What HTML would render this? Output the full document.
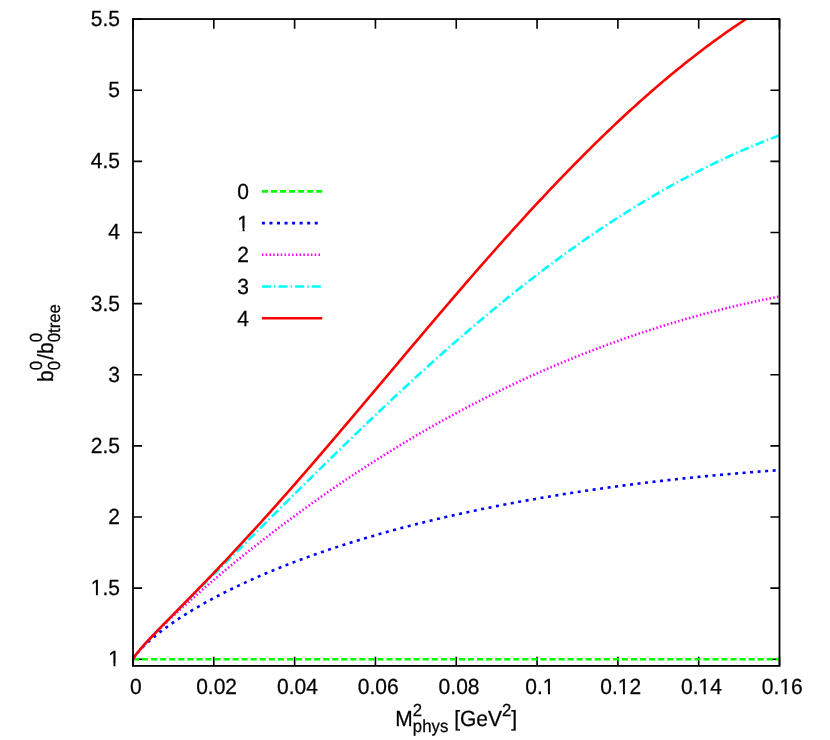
<!DOCTYPE html>
<html><head><meta charset="utf-8"><title>plot</title>
<style>html,body{margin:0;padding:0;background:#fff;}svg{display:block;}text{font-family:"Liberation Sans",sans-serif;fill:#000;stroke:#000;stroke-width:0.25px;text-rendering:geometricPrecision;}</style>
</head><body>
<svg width="830" height="740" viewBox="0 0 830 740">
<rect x="0" y="0" width="830" height="740" fill="#fff"/>
<g stroke="#000" stroke-width="1.60" fill="none" stroke-linecap="butt">
<path d="M133.00 659.20h9.1M779.50 659.20h-9.1"/>
<path d="M133.00 588.08h9.1M779.50 588.08h-9.1"/>
<path d="M133.00 516.95h9.1M779.50 516.95h-9.1"/>
<path d="M133.00 445.83h9.1M779.50 445.83h-9.1"/>
<path d="M133.00 374.70h9.1M779.50 374.70h-9.1"/>
<path d="M133.00 303.58h9.1M779.50 303.58h-9.1"/>
<path d="M133.00 232.45h9.1M779.50 232.45h-9.1"/>
<path d="M133.00 161.33h9.1M779.50 161.33h-9.1"/>
<path d="M133.00 90.20h9.1M779.50 90.20h-9.1"/>
<path d="M133.00 19.08h9.1M779.50 19.08h-9.1"/>
<path d="M133.00 665.90v-9.1M133.00 19.05v9.8"/>
<path d="M213.81 665.90v-9.1M213.81 19.05v9.8"/>
<path d="M294.62 665.90v-9.1M294.62 19.05v9.8"/>
<path d="M375.44 665.90v-9.1M375.44 19.05v9.8"/>
<path d="M456.25 665.90v-9.1M456.25 19.05v9.8"/>
<path d="M537.06 665.90v-9.1M537.06 19.05v9.8"/>
<path d="M617.88 665.90v-9.1M617.88 19.05v9.8"/>
<path d="M698.69 665.90v-9.1M698.69 19.05v9.8"/>
<path d="M779.50 665.90v-9.1M779.50 19.05v9.8"/>
</g>
<g font-size="21.00px" style="filter:grayscale(1)">
<text transform="translate(119.90 666.20) scale(1 1.045)" text-anchor="end">1</text>
<text transform="translate(119.90 595.08) scale(1 1.045)" text-anchor="end">1.5</text>
<text transform="translate(119.90 523.95) scale(1 1.045)" text-anchor="end">2</text>
<text transform="translate(119.90 452.83) scale(1 1.045)" text-anchor="end">2.5</text>
<text transform="translate(119.90 381.70) scale(1 1.045)" text-anchor="end">3</text>
<text transform="translate(119.90 310.58) scale(1 1.045)" text-anchor="end">3.5</text>
<text transform="translate(119.90 239.45) scale(1 1.045)" text-anchor="end">4</text>
<text transform="translate(119.90 168.33) scale(1 1.045)" text-anchor="end">4.5</text>
<text transform="translate(119.90 97.20) scale(1 1.045)" text-anchor="end">5</text>
<text transform="translate(119.90 26.08) scale(1 1.045)" text-anchor="end">5.5</text>
<text transform="translate(135.80 694.30) scale(1 1.045)" text-anchor="middle">0</text>
<text transform="translate(216.61 694.30) scale(1 1.045)" text-anchor="middle">0.02</text>
<text transform="translate(297.43 694.30) scale(1 1.045)" text-anchor="middle">0.04</text>
<text transform="translate(378.24 694.30) scale(1 1.045)" text-anchor="middle">0.06</text>
<text transform="translate(459.05 694.30) scale(1 1.045)" text-anchor="middle">0.08</text>
<text transform="translate(539.86 694.30) scale(1 1.045)" text-anchor="middle">0.1</text>
<text transform="translate(620.67 694.30) scale(1 1.045)" text-anchor="middle">0.12</text>
<text transform="translate(701.49 694.30) scale(1 1.045)" text-anchor="middle">0.14</text>
<text transform="translate(782.30 694.30) scale(1 1.045)" text-anchor="middle">0.16</text>
</g>
<g fill="none" stroke-width="2.60" stroke-linejoin="round" stroke-linecap="butt">
<polyline stroke="#00ff00" stroke-dasharray="6.036 3.018" points="133.00,659.20 779.50,659.20"/>
<polyline stroke="#0000ff" stroke-dasharray="3.018 4.527" points="133.00,659.20 134.62,656.57 136.23,654.43 137.85,652.49 139.47,650.66 141.08,648.93 142.70,647.27 144.31,645.67 145.93,644.13 147.55,642.62 149.16,641.16 150.78,639.74 152.39,638.34 154.01,636.98 155.63,635.65 157.24,634.34 158.86,633.05 160.48,631.79 162.09,630.55 163.71,629.33 165.32,628.13 166.94,626.94 168.56,625.78 170.17,624.63 171.79,623.49 173.41,622.37 175.02,621.27 176.64,620.18 178.25,619.10 179.87,618.03 181.49,616.98 183.10,615.94 184.72,614.91 186.34,613.89 187.95,612.89 189.57,611.89 191.19,610.91 192.80,609.93 194.42,608.96 196.03,608.01 197.65,607.06 199.27,606.12 200.88,605.19 202.50,604.27 204.12,603.36 205.73,602.45 207.35,601.56 208.96,600.67 210.58,599.79 212.20,598.92 213.81,598.05 215.43,597.19 217.05,596.34 218.66,595.50 220.28,594.66 221.89,593.83 223.51,593.00 225.13,592.18 226.74,591.37 228.36,590.57 229.97,589.77 231.59,588.97 233.21,588.19 234.82,587.41 236.44,586.63 238.06,585.86 239.67,585.10 241.29,584.34 242.91,583.58 244.52,582.83 246.14,582.09 247.75,581.35 249.37,580.62 250.99,579.89 252.60,579.17 254.22,578.45 255.84,577.74 257.45,577.03 259.07,576.32 260.68,575.62 262.30,574.93 263.92,574.24 265.53,573.55 267.15,572.87 268.76,572.19 270.38,571.52 272.00,570.85 273.61,570.19 275.23,569.53 276.85,568.87 278.46,568.22 280.08,567.57 281.69,566.93 283.31,566.29 284.93,565.65 286.54,565.02 288.16,564.39 289.78,563.77 291.39,563.14 293.01,562.53 294.62,561.91 296.24,561.30 297.86,560.70 299.47,560.09 301.09,559.49 302.71,558.90 304.32,558.30 305.94,557.72 307.56,557.13 309.17,556.55 310.79,555.97 312.40,555.39 314.02,554.82 315.64,554.25 317.25,553.68 318.87,553.12 320.49,552.56 322.10,552.00 323.72,551.45 325.33,550.90 326.95,550.35 328.57,549.81 330.18,549.26 331.80,548.72 333.41,548.19 335.03,547.66 336.65,547.13 338.26,546.60 339.88,546.07 341.50,545.55 343.11,545.03 344.73,544.52 346.35,544.00 347.96,543.49 349.58,542.99 351.19,542.48 352.81,541.98 354.43,541.48 356.04,540.98 357.66,540.49 359.28,540.00 360.89,539.51 362.51,539.02 364.12,538.54 365.74,538.05 367.36,537.57 368.97,537.10 370.59,536.62 372.20,536.15 373.82,535.68 375.44,535.22 377.05,534.75 378.67,534.29 380.29,533.83 381.90,533.37 383.52,532.92 385.13,532.46 386.75,532.01 388.37,531.57 389.98,531.12 391.60,530.68 393.22,530.23 394.83,529.80 396.45,529.36 398.06,528.92 399.68,528.49 401.30,528.06 402.91,527.63 404.53,527.21 406.15,526.78 407.76,526.36 409.38,525.94 411.00,525.53 412.61,525.11 414.23,524.70 415.84,524.29 417.46,523.88 419.08,523.47 420.69,523.06 422.31,522.66 423.93,522.26 425.54,521.86 427.16,521.46 428.77,521.07 430.39,520.68 432.01,520.29 433.62,519.90 435.24,519.51 436.86,519.12 438.47,518.74 440.09,518.36 441.70,517.98 443.32,517.60 444.94,517.23 446.55,516.85 448.17,516.48 449.78,516.11 451.40,515.74 453.02,515.38 454.63,515.01 456.25,514.65 457.87,514.29 459.48,513.93 461.10,513.57 462.72,513.22 464.33,512.86 465.95,512.51 467.56,512.16 469.18,511.81 470.80,511.46 472.41,511.12 474.03,510.77 475.65,510.43 477.26,510.09 478.88,509.75 480.49,509.42 482.11,509.08 483.73,508.75 485.34,508.42 486.96,508.09 488.58,507.76 490.19,507.43 491.81,507.11 493.42,506.78 495.04,506.46 496.66,506.14 498.27,505.82 499.89,505.51 501.51,505.19 503.12,504.88 504.74,504.57 506.35,504.25 507.97,503.95 509.59,503.64 511.20,503.33 512.82,503.03 514.43,502.72 516.05,502.42 517.67,502.12 519.28,501.82 520.90,501.53 522.52,501.23 524.13,500.94 525.75,500.65 527.37,500.36 528.98,500.07 530.60,499.78 532.21,499.49 533.83,499.21 535.45,498.92 537.06,498.64 538.68,498.36 540.30,498.08 541.91,497.80 543.53,497.53 545.14,497.25 546.76,496.98 548.38,496.71 549.99,496.44 551.61,496.17 553.23,495.90 554.84,495.63 556.46,495.37 558.07,495.10 559.69,494.84 561.31,494.58 562.92,494.32 564.54,494.06 566.15,493.80 567.77,493.55 569.39,493.29 571.00,493.04 572.62,492.79 574.24,492.54 575.85,492.29 577.47,492.04 579.09,491.80 580.70,491.55 582.32,491.31 583.93,491.06 585.55,490.82 587.17,490.58 588.78,490.35 590.40,490.11 592.01,489.87 593.63,489.64 595.25,489.40 596.86,489.17 598.48,488.94 600.10,488.71 601.71,488.48 603.33,488.25 604.94,488.03 606.56,487.80 608.18,487.58 609.79,487.36 611.41,487.14 613.03,486.92 614.64,486.70 616.26,486.48 617.88,486.27 619.49,486.05 621.11,485.84 622.72,485.62 624.34,485.41 625.96,485.20 627.57,484.99 629.19,484.79 630.81,484.58 632.42,484.37 634.04,484.17 635.65,483.97 637.27,483.76 638.89,483.56 640.50,483.36 642.12,483.16 643.74,482.97 645.35,482.77 646.97,482.58 648.58,482.38 650.20,482.19 651.82,482.00 653.43,481.81 655.05,481.62 656.67,481.43 658.28,481.24 659.90,481.05 661.51,480.87 663.13,480.69 664.75,480.50 666.36,480.32 667.98,480.14 669.60,479.96 671.21,479.78 672.83,479.60 674.44,479.43 676.06,479.25 677.68,479.08 679.29,478.91 680.91,478.73 682.53,478.56 684.14,478.39 685.76,478.22 687.37,478.06 688.99,477.89 690.61,477.72 692.22,477.56 693.84,477.40 695.45,477.23 697.07,477.07 698.69,476.91 700.30,476.75 701.92,476.59 703.54,476.44 705.15,476.28 706.77,476.12 708.38,475.97 710.00,475.82 711.62,475.66 713.23,475.51 714.85,475.36 716.47,475.21 718.08,475.06 719.70,474.92 721.32,474.77 722.93,474.63 724.55,474.48 726.16,474.34 727.78,474.20 729.40,474.05 731.01,473.91 732.63,473.77 734.25,473.64 735.86,473.50 737.48,473.36 739.09,473.23 740.71,473.09 742.33,472.96 743.94,472.82 745.56,472.69 747.18,472.56 748.79,472.43 750.41,472.30 752.02,472.18 753.64,472.05 755.26,471.92 756.87,471.80 758.49,471.67 760.11,471.55 761.72,471.43 763.34,471.31 764.95,471.19 766.57,471.07 768.19,470.95 769.80,470.83 771.42,470.71 773.03,470.60 774.65,470.48 776.27,470.37 777.88,470.26 779.50,470.14"/>
<polyline stroke="#ff00ff" stroke-dasharray="1.509 2.263" points="133.00,659.20 134.62,656.53 136.23,654.32 137.85,652.27 139.47,650.31 141.08,648.42 142.70,646.58 144.31,644.78 145.93,643.02 147.55,641.29 149.16,639.58 150.78,637.90 152.39,636.23 154.01,634.58 155.63,632.95 157.24,631.34 158.86,629.73 160.48,628.14 162.09,626.56 163.71,624.99 165.32,623.44 166.94,621.89 168.56,620.35 170.17,618.82 171.79,617.30 173.41,615.78 175.02,614.28 176.64,612.78 178.25,611.28 179.87,609.80 181.49,608.32 183.10,606.85 184.72,605.38 186.34,603.92 187.95,602.46 189.57,601.01 191.19,599.57 192.80,598.13 194.42,596.70 196.03,595.27 197.65,593.85 199.27,592.43 200.88,591.02 202.50,589.61 204.12,588.21 205.73,586.81 207.35,585.41 208.96,584.02 210.58,582.64 212.20,581.26 213.81,579.88 215.43,578.51 217.05,577.14 218.66,575.78 220.28,574.42 221.89,573.06 223.51,571.71 225.13,570.36 226.74,569.02 228.36,567.68 229.97,566.34 231.59,565.01 233.21,563.68 234.82,562.36 236.44,561.04 238.06,559.72 239.67,558.41 241.29,557.10 242.91,555.79 244.52,554.49 246.14,553.20 247.75,551.90 249.37,550.61 250.99,549.32 252.60,548.04 254.22,546.76 255.84,545.49 257.45,544.21 259.07,542.95 260.68,541.68 262.30,540.42 263.92,539.16 265.53,537.91 267.15,536.66 268.76,535.41 270.38,534.16 272.00,532.92 273.61,531.69 275.23,530.45 276.85,529.22 278.46,528.00 280.08,526.77 281.69,525.55 283.31,524.34 284.93,523.12 286.54,521.91 288.16,520.71 289.78,519.51 291.39,518.31 293.01,517.11 294.62,515.92 296.24,514.73 297.86,513.54 299.47,512.36 301.09,511.18 302.71,510.01 304.32,508.83 305.94,507.67 307.56,506.50 309.17,505.34 310.79,504.18 312.40,503.02 314.02,501.87 315.64,500.72 317.25,499.58 318.87,498.44 320.49,497.30 322.10,496.16 323.72,495.03 325.33,493.90 326.95,492.77 328.57,491.65 330.18,490.53 331.80,489.42 333.41,488.30 335.03,487.19 336.65,486.09 338.26,484.98 339.88,483.89 341.50,482.79 343.11,481.70 344.73,480.61 346.35,479.52 347.96,478.44 349.58,477.36 351.19,476.28 352.81,475.21 354.43,474.14 356.04,473.07 357.66,472.00 359.28,470.94 360.89,469.89 362.51,468.83 364.12,467.78 365.74,466.73 367.36,465.69 368.97,464.65 370.59,463.61 372.20,462.57 373.82,461.54 375.44,460.51 377.05,459.49 378.67,458.47 380.29,457.45 381.90,456.43 383.52,455.42 385.13,454.41 386.75,453.40 388.37,452.40 389.98,451.40 391.60,450.40 393.22,449.41 394.83,448.42 396.45,447.43 398.06,446.45 399.68,445.47 401.30,444.49 402.91,443.52 404.53,442.54 406.15,441.58 407.76,440.61 409.38,439.65 411.00,438.69 412.61,437.73 414.23,436.78 415.84,435.83 417.46,434.89 419.08,433.94 420.69,433.00 422.31,432.07 423.93,431.13 425.54,430.20 427.16,429.27 428.77,428.35 430.39,427.43 432.01,426.51 433.62,425.60 435.24,424.68 436.86,423.77 438.47,422.87 440.09,421.97 441.70,421.07 443.32,420.17 444.94,419.28 446.55,418.39 448.17,417.50 449.78,416.61 451.40,415.73 453.02,414.86 454.63,413.98 456.25,413.11 457.87,412.24 459.48,411.37 461.10,410.51 462.72,409.65 464.33,408.79 465.95,407.94 467.56,407.09 469.18,406.24 470.80,405.40 472.41,404.56 474.03,403.72 475.65,402.88 477.26,402.05 478.88,401.22 480.49,400.40 482.11,399.57 483.73,398.75 485.34,397.94 486.96,397.12 488.58,396.31 490.19,395.50 491.81,394.70 493.42,393.90 495.04,393.10 496.66,392.30 498.27,391.51 499.89,390.72 501.51,389.93 503.12,389.15 504.74,388.36 506.35,387.59 507.97,386.81 509.59,386.04 511.20,385.27 512.82,384.50 514.43,383.74 516.05,382.98 517.67,382.22 519.28,381.47 520.90,380.72 522.52,379.97 524.13,379.22 525.75,378.48 527.37,377.74 528.98,377.00 530.60,376.27 532.21,375.54 533.83,374.81 535.45,374.09 537.06,373.36 538.68,372.65 540.30,371.93 541.91,371.22 543.53,370.51 545.14,369.80 546.76,369.09 548.38,368.39 549.99,367.69 551.61,367.00 553.23,366.31 554.84,365.62 556.46,364.93 558.07,364.24 559.69,363.56 561.31,362.88 562.92,362.21 564.54,361.54 566.15,360.87 567.77,360.20 569.39,359.54 571.00,358.87 572.62,358.22 574.24,357.56 575.85,356.91 577.47,356.26 579.09,355.61 580.70,354.97 582.32,354.33 583.93,353.69 585.55,353.05 587.17,352.42 588.78,351.79 590.40,351.16 592.01,350.54 593.63,349.92 595.25,349.30 596.86,348.68 598.48,348.07 600.10,347.46 601.71,346.85 603.33,346.25 604.94,345.65 606.56,345.05 608.18,344.45 609.79,343.86 611.41,343.27 613.03,342.68 614.64,342.10 616.26,341.51 617.88,340.93 619.49,340.36 621.11,339.78 622.72,339.21 624.34,338.64 625.96,338.08 627.57,337.52 629.19,336.96 630.81,336.40 632.42,335.84 634.04,335.29 635.65,334.74 637.27,334.20 638.89,333.65 640.50,333.11 642.12,332.57 643.74,332.04 645.35,331.51 646.97,330.98 648.58,330.45 650.20,329.92 651.82,329.40 653.43,328.88 655.05,328.37 656.67,327.85 658.28,327.34 659.90,326.83 661.51,326.33 663.13,325.82 664.75,325.32 666.36,324.83 667.98,324.33 669.60,323.84 671.21,323.35 672.83,322.86 674.44,322.38 676.06,321.90 677.68,321.42 679.29,320.94 680.91,320.47 682.53,320.00 684.14,319.53 685.76,319.06 687.37,318.60 688.99,318.14 690.61,317.68 692.22,317.23 693.84,316.77 695.45,316.32 697.07,315.88 698.69,315.43 700.30,314.99 701.92,314.55 703.54,314.11 705.15,313.68 706.77,313.25 708.38,312.82 710.00,312.39 711.62,311.97 713.23,311.55 714.85,311.13 716.47,310.71 718.08,310.30 719.70,309.89 721.32,309.48 722.93,309.07 724.55,308.67 726.16,308.27 727.78,307.87 729.40,307.47 731.01,307.08 732.63,306.69 734.25,306.30 735.86,305.92 737.48,305.53 739.09,305.15 740.71,304.77 742.33,304.40 743.94,304.03 745.56,303.66 747.18,303.29 748.79,302.92 750.41,302.56 752.02,302.20 753.64,301.84 755.26,301.49 756.87,301.13 758.49,300.78 760.11,300.43 761.72,300.09 763.34,299.75 764.95,299.40 766.57,299.07 768.19,298.73 769.80,298.40 771.42,298.07 773.03,297.74 774.65,297.41 776.27,297.09 777.88,296.77 779.50,296.45"/>
<polyline stroke="#00ffff" stroke-dasharray="9.054 3.018 1.509 3.018" points="133.00,659.20 134.62,656.53 136.23,654.32 137.85,652.26 139.47,650.29 141.08,648.39 142.70,646.54 144.31,644.72 145.93,642.94 147.55,641.18 149.16,639.44 150.78,637.72 152.39,636.01 154.01,634.32 155.63,632.64 157.24,630.97 158.86,629.31 160.48,627.65 162.09,626.00 163.71,624.36 165.32,622.72 166.94,621.09 168.56,619.46 170.17,617.83 171.79,616.21 173.41,614.59 175.02,612.97 176.64,611.36 178.25,609.75 179.87,608.14 181.49,606.53 183.10,604.92 184.72,603.31 186.34,601.70 187.95,600.10 189.57,598.49 191.19,596.89 192.80,595.28 194.42,593.68 196.03,592.07 197.65,590.47 199.27,588.87 200.88,587.26 202.50,585.66 204.12,584.06 205.73,582.45 207.35,580.85 208.96,579.24 210.58,577.64 212.20,576.04 213.81,574.43 215.43,572.83 217.05,571.22 218.66,569.61 220.28,568.01 221.89,566.40 223.51,564.79 225.13,563.19 226.74,561.58 228.36,559.97 229.97,558.36 231.59,556.76 233.21,555.15 234.82,553.54 236.44,551.93 238.06,550.32 239.67,548.71 241.29,547.10 242.91,545.49 244.52,543.88 246.14,542.27 247.75,540.66 249.37,539.05 250.99,537.43 252.60,535.82 254.22,534.21 255.84,532.60 257.45,530.99 259.07,529.38 260.68,527.77 262.30,526.15 263.92,524.54 265.53,522.93 267.15,521.32 268.76,519.71 270.38,518.10 272.00,516.49 273.61,514.88 275.23,513.27 276.85,511.66 278.46,510.05 280.08,508.44 281.69,506.83 283.31,505.22 284.93,503.61 286.54,502.00 288.16,500.40 289.78,498.79 291.39,497.18 293.01,495.58 294.62,493.97 296.24,492.37 297.86,490.76 299.47,489.16 301.09,487.56 302.71,485.96 304.32,484.35 305.94,482.75 307.56,481.15 309.17,479.56 310.79,477.96 312.40,476.36 314.02,474.77 315.64,473.17 317.25,471.58 318.87,469.98 320.49,468.39 322.10,466.80 323.72,465.21 325.33,463.62 326.95,462.03 328.57,460.45 330.18,458.86 331.80,457.28 333.41,455.70 335.03,454.12 336.65,452.54 338.26,450.96 339.88,449.38 341.50,447.80 343.11,446.23 344.73,444.66 346.35,443.09 347.96,441.52 349.58,439.95 351.19,438.38 352.81,436.82 354.43,435.25 356.04,433.69 357.66,432.13 359.28,430.57 360.89,429.02 362.51,427.46 364.12,425.91 365.74,424.36 367.36,422.81 368.97,421.26 370.59,419.71 372.20,418.17 373.82,416.63 375.44,415.09 377.05,413.55 378.67,412.01 380.29,410.48 381.90,408.95 383.52,407.42 385.13,405.89 386.75,404.37 388.37,402.84 389.98,401.32 391.60,399.80 393.22,398.29 394.83,396.77 396.45,395.26 398.06,393.75 399.68,392.24 401.30,390.74 402.91,389.24 404.53,387.74 406.15,386.24 407.76,384.74 409.38,383.25 411.00,381.76 412.61,380.27 414.23,378.79 415.84,377.30 417.46,375.82 419.08,374.34 420.69,372.87 422.31,371.40 423.93,369.93 425.54,368.46 427.16,367.00 428.77,365.53 430.39,364.08 432.01,362.62 433.62,361.17 435.24,359.71 436.86,358.27 438.47,356.82 440.09,355.38 441.70,353.94 443.32,352.50 444.94,351.07 446.55,349.64 448.17,348.21 449.78,346.79 451.40,345.37 453.02,343.95 454.63,342.53 456.25,341.12 457.87,339.71 459.48,338.30 461.10,336.90 462.72,335.50 464.33,334.10 465.95,332.71 467.56,331.32 469.18,329.93 470.80,328.54 472.41,327.16 474.03,325.79 475.65,324.41 477.26,323.04 478.88,321.67 480.49,320.31 482.11,318.94 483.73,317.59 485.34,316.23 486.96,314.88 488.58,313.53 490.19,312.18 491.81,310.84 493.42,309.51 495.04,308.17 496.66,306.84 498.27,305.51 499.89,304.19 501.51,302.87 503.12,301.55 504.74,300.23 506.35,298.92 507.97,297.62 509.59,296.31 511.20,295.01 512.82,293.72 514.43,292.42 516.05,291.14 517.67,289.85 519.28,288.57 520.90,287.29 522.52,286.02 524.13,284.75 525.75,283.48 527.37,282.21 528.98,280.95 530.60,279.70 532.21,278.45 533.83,277.20 535.45,275.95 537.06,274.71 538.68,273.47 540.30,272.24 541.91,271.01 543.53,269.78 545.14,268.56 546.76,267.34 548.38,266.13 549.99,264.92 551.61,263.71 553.23,262.51 554.84,261.31 556.46,260.12 558.07,258.92 559.69,257.74 561.31,256.55 562.92,255.37 564.54,254.20 566.15,253.03 567.77,251.86 569.39,250.69 571.00,249.54 572.62,248.38 574.24,247.23 575.85,246.08 577.47,244.94 579.09,243.80 580.70,242.66 582.32,241.53 583.93,240.40 585.55,239.28 587.17,238.16 588.78,237.04 590.40,235.93 592.01,234.82 593.63,233.72 595.25,232.62 596.86,231.53 598.48,230.43 600.10,229.35 601.71,228.26 603.33,227.19 604.94,226.11 606.56,225.04 608.18,223.98 609.79,222.91 611.41,221.86 613.03,220.80 614.64,219.75 616.26,218.71 617.88,217.67 619.49,216.63 621.11,215.60 622.72,214.57 624.34,213.54 625.96,212.52 627.57,211.51 629.19,210.49 630.81,209.49 632.42,208.48 634.04,207.49 635.65,206.49 637.27,205.50 638.89,204.51 640.50,203.53 642.12,202.55 643.74,201.58 645.35,200.61 646.97,199.65 648.58,198.69 650.20,197.73 651.82,196.78 653.43,195.83 655.05,194.89 656.67,193.95 658.28,193.01 659.90,192.08 661.51,191.16 663.13,190.24 664.75,189.32 666.36,188.41 667.98,187.50 669.60,186.59 671.21,185.69 672.83,184.80 674.44,183.90 676.06,183.02 677.68,182.14 679.29,181.26 680.91,180.38 682.53,179.51 684.14,178.65 685.76,177.79 687.37,176.93 688.99,176.08 690.61,175.23 692.22,174.39 693.84,173.55 695.45,172.71 697.07,171.88 698.69,171.06 700.30,170.24 701.92,169.42 703.54,168.61 705.15,167.80 706.77,167.00 708.38,166.20 710.00,165.40 711.62,164.61 713.23,163.82 714.85,163.04 716.47,162.27 718.08,161.49 719.70,160.72 721.32,159.96 722.93,159.20 724.55,158.44 726.16,157.69 727.78,156.95 729.40,156.21 731.01,155.47 732.63,154.73 734.25,154.01 735.86,153.28 737.48,152.56 739.09,151.85 740.71,151.13 742.33,150.43 743.94,149.73 745.56,149.03 747.18,148.33 748.79,147.64 750.41,146.96 752.02,146.28 753.64,145.60 755.26,144.93 756.87,144.27 758.49,143.60 760.11,142.94 761.72,142.29 763.34,141.64 764.95,141.00 766.57,140.36 768.19,139.72 769.80,139.09 771.42,138.46 773.03,137.84 774.65,137.22 776.27,136.61 777.88,136.00 779.50,135.39"/>
<polyline stroke="#ff0000" points="133.00,659.20 134.62,656.53 136.23,654.32 137.85,652.26 139.47,650.29 141.08,648.39 142.70,646.54 144.31,644.72 145.93,642.93 147.55,641.17 149.16,639.43 150.78,637.71 152.39,635.99 154.01,634.30 155.63,632.61 157.24,630.93 158.86,629.26 160.48,627.59 162.09,625.93 163.71,624.27 165.32,622.62 166.94,620.97 168.56,619.32 170.17,617.68 171.79,616.04 173.41,614.39 175.02,612.75 176.64,611.11 178.25,609.47 179.87,607.83 181.49,606.18 183.10,604.54 184.72,602.90 186.34,601.25 187.95,599.60 189.57,597.95 191.19,596.30 192.80,594.65 194.42,593.00 196.03,591.34 197.65,589.68 199.27,588.02 200.88,586.35 202.50,584.68 204.12,583.01 205.73,581.34 207.35,579.67 208.96,577.99 210.58,576.30 212.20,574.62 213.81,572.93 215.43,571.24 217.05,569.55 218.66,567.85 220.28,566.15 221.89,564.44 223.51,562.74 225.13,561.03 226.74,559.31 228.36,557.59 229.97,555.87 231.59,554.15 233.21,552.42 234.82,550.69 236.44,548.96 238.06,547.22 239.67,545.48 241.29,543.73 242.91,541.98 244.52,540.23 246.14,538.48 247.75,536.72 249.37,534.96 250.99,533.19 252.60,531.43 254.22,529.65 255.84,527.88 257.45,526.10 259.07,524.32 260.68,522.54 262.30,520.75 263.92,518.96 265.53,517.16 267.15,515.37 268.76,513.57 270.38,511.76 272.00,509.96 273.61,508.15 275.23,506.34 276.85,504.52 278.46,502.70 280.08,500.88 281.69,499.06 283.31,497.23 284.93,495.40 286.54,493.57 288.16,491.74 289.78,489.90 291.39,488.06 293.01,486.22 294.62,484.37 296.24,482.52 297.86,480.67 299.47,478.82 301.09,476.96 302.71,475.11 304.32,473.25 305.94,471.38 307.56,469.52 309.17,467.65 310.79,465.78 312.40,463.91 314.02,462.04 315.64,460.17 317.25,458.29 318.87,456.41 320.49,454.53 322.10,452.65 323.72,450.76 325.33,448.88 326.95,446.99 328.57,445.10 330.18,443.21 331.80,441.31 333.41,439.42 335.03,437.52 336.65,435.62 338.26,433.73 339.88,431.83 341.50,429.92 343.11,428.02 344.73,426.12 346.35,424.21 347.96,422.30 349.58,420.40 351.19,418.49 352.81,416.58 354.43,414.67 356.04,412.76 357.66,410.84 359.28,408.93 360.89,407.02 362.51,405.10 364.12,403.18 365.74,401.27 367.36,399.35 368.97,397.43 370.59,395.52 372.20,393.60 373.82,391.68 375.44,389.76 377.05,387.84 378.67,385.92 380.29,384.00 381.90,382.08 383.52,380.16 385.13,378.24 386.75,376.32 388.37,374.40 389.98,372.48 391.60,370.56 393.22,368.64 394.83,366.72 396.45,364.80 398.06,362.88 399.68,360.96 401.30,359.04 402.91,357.12 404.53,355.20 406.15,353.28 407.76,351.37 409.38,349.45 411.00,347.53 412.61,345.62 414.23,343.70 415.84,341.79 417.46,339.88 419.08,337.97 420.69,336.05 422.31,334.14 423.93,332.23 425.54,330.33 427.16,328.42 428.77,326.51 430.39,324.61 432.01,322.70 433.62,320.80 435.24,318.90 436.86,317.00 438.47,315.10 440.09,313.20 441.70,311.31 443.32,309.41 444.94,307.52 446.55,305.63 448.17,303.74 449.78,301.85 451.40,299.97 453.02,298.08 454.63,296.20 456.25,294.32 457.87,292.44 459.48,290.56 461.10,288.69 462.72,286.82 464.33,284.95 465.95,283.08 467.56,281.21 469.18,279.34 470.80,277.48 472.41,275.62 474.03,273.76 475.65,271.91 477.26,270.06 478.88,268.20 480.49,266.36 482.11,264.51 483.73,262.67 485.34,260.83 486.96,258.99 488.58,257.15 490.19,255.32 491.81,253.49 493.42,251.66 495.04,249.84 496.66,248.01 498.27,246.19 499.89,244.38 501.51,242.56 503.12,240.75 504.74,238.95 506.35,237.14 507.97,235.34 509.59,233.54 511.20,231.75 512.82,229.95 514.43,228.17 516.05,226.38 517.67,224.60 519.28,222.82 520.90,221.04 522.52,219.27 524.13,217.50 525.75,215.74 527.37,213.97 528.98,212.22 530.60,210.46 532.21,208.71 533.83,206.96 535.45,205.22 537.06,203.48 538.68,201.74 540.30,200.01 541.91,198.28 543.53,196.55 545.14,194.83 546.76,193.11 548.38,191.40 549.99,189.69 551.61,187.98 553.23,186.28 554.84,184.58 556.46,182.89 558.07,181.20 559.69,179.51 561.31,177.83 562.92,176.15 564.54,174.48 566.15,172.81 567.77,171.15 569.39,169.49 571.00,167.83 572.62,166.18 574.24,164.53 575.85,162.89 577.47,161.25 579.09,159.62 580.70,157.99 582.32,156.36 583.93,154.74 585.55,153.12 587.17,151.51 588.78,149.90 590.40,148.30 592.01,146.70 593.63,145.11 595.25,143.52 596.86,141.94 598.48,140.36 600.10,138.79 601.71,137.22 603.33,135.65 604.94,134.09 606.56,132.54 608.18,130.99 609.79,129.45 611.41,127.91 613.03,126.37 614.64,124.84 616.26,123.32 617.88,121.80 619.49,120.28 621.11,118.77 622.72,117.27 624.34,115.77 625.96,114.27 627.57,112.79 629.19,111.30 630.81,109.82 632.42,108.35 634.04,106.88 635.65,105.42 637.27,103.96 638.89,102.51 640.50,101.06 642.12,99.62 643.74,98.19 645.35,96.76 646.97,95.33 648.58,93.91 650.20,92.50 651.82,91.09 653.43,89.68 655.05,88.29 656.67,86.89 658.28,85.51 659.90,84.13 661.51,82.75 663.13,81.38 664.75,80.02 666.36,78.66 667.98,77.31 669.60,75.96 671.21,74.62 672.83,73.28 674.44,71.95 676.06,70.63 677.68,69.31 679.29,68.00 680.91,66.69 682.53,65.39 684.14,64.09 685.76,62.80 687.37,61.52 688.99,60.24 690.61,58.97 692.22,57.71 693.84,56.45 695.45,55.19 697.07,53.94 698.69,52.70 700.30,51.47 701.92,50.24 703.54,49.01 705.15,47.79 706.77,46.58 708.38,45.38 710.00,44.18 711.62,42.98 713.23,41.79 714.85,40.61 716.47,39.44 718.08,38.27 719.70,37.10 721.32,35.95 722.93,34.80 724.55,33.65 726.16,32.51 727.78,31.38 729.40,30.25 731.01,29.13 732.63,28.02 734.25,26.91 735.86,25.81 737.48,24.71 739.09,23.62 740.71,22.54 742.33,21.47 743.94,20.39 745.56,19.33 745.95,19.08"/>
<path stroke="#00ff00" stroke-dasharray="6.036 3.018" d="M261.90 191.40H322.20"/>
<path stroke="#0000ff" stroke-dasharray="3.018 4.527" d="M261.90 223.10H322.20"/>
<path stroke="#ff00ff" stroke-dasharray="1.509 2.263" d="M261.90 254.80H322.20"/>
<path stroke="#00ffff" stroke-dasharray="9.054 3.018 1.509 3.018" d="M261.90 286.50H322.20"/>
<path stroke="#ff0000"  d="M261.90 318.20H322.20"/>
</g>
<g font-size="21.00px" style="filter:grayscale(1)">
<text transform="translate(249.00 199.00) scale(1 1.045)" text-anchor="end">0</text>
<text transform="translate(249.00 230.70) scale(1 1.045)" text-anchor="end">1</text>
<text transform="translate(249.00 262.40) scale(1 1.045)" text-anchor="end">2</text>
<text transform="translate(249.00 294.10) scale(1 1.045)" text-anchor="end">3</text>
<text transform="translate(249.00 325.80) scale(1 1.045)" text-anchor="end">4</text>
</g>
<path fill="#fff" d="M237.63 228.06H242.55v3.64H237.63zM244.51 228.06H249.00v3.64H244.51z"/>
<path fill="#fff" d="M108.53 663.56H113.45v3.64H108.53zM115.41 663.56H119.90v3.64H115.41z"/>
<path fill="#fff" d="M91.01 592.44H95.94v3.64H91.01zM97.89 592.44H102.39v3.64H97.89z"/>
<path fill="#fff" d="M543.09 691.66H548.01v3.64H543.09zM549.97 691.66H554.46v3.64H549.97z"/>
<path fill="#fff" d="M618.06 691.66H622.98v3.64H618.06zM624.94 691.66H629.43v3.64H624.94z"/>
<path fill="#fff" d="M698.87 691.66H703.80v3.64H698.87zM705.75 691.66H710.24v3.64H705.75z"/>
<path fill="#fff" d="M779.69 691.66H784.61v3.64H779.69zM786.56 691.66H791.06v3.64H786.56z"/>
<rect x="133.00" y="19.05" width="646.50" height="646.85" fill="none" stroke="#000" stroke-width="1.8"/>
<g style="filter:grayscale(1)">
<text transform="translate(395.33 725.70) scale(1 1.045)" font-size="21.00px">M</text>
<text transform="translate(412.82 715.50) scale(1 1.045)" font-size="16.80px">2</text>
<text transform="translate(412.82 732.20) scale(1 1.045)" font-size="16.80px">phys</text>
<text transform="translate(454.14 725.70) scale(1 1.045)" font-size="21.00px">[GeV</text>
<text transform="translate(502.00 715.50) scale(1 1.045)" font-size="16.80px">2</text>
<text transform="translate(511.34 725.70) scale(1 1.045)" font-size="21.00px">]</text>
</g>
<g style="filter:grayscale(1)"><g transform="translate(53.40,380.89) rotate(-90)">
<text transform="translate(-1.00 0.00) scale(1 1.045)" font-size="21.00px">b</text>
<text transform="translate(10.68 -11.00) scale(1 1.045)" font-size="16.80px">0</text>
<text transform="translate(10.68 6.60) scale(1 1.045)" font-size="16.80px">0</text>
<text transform="translate(21.02 0.00) scale(1 1.045)" font-size="21.00px">/b</text>
<text transform="translate(38.54 -11.00) scale(1 1.045)" font-size="16.80px">0</text>
<text transform="translate(38.54 6.60) scale(1 1.045)" font-size="16.80px">0tree</text>
</g></g>
</svg></body></html>
